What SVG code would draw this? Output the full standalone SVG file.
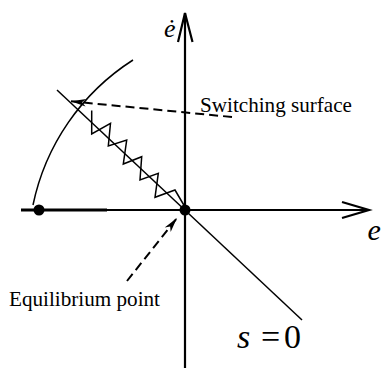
<svg xmlns="http://www.w3.org/2000/svg" width="381" height="368" viewBox="0 0 381 368">
  <style>
    .ax { stroke: #000; stroke-width: 2.2; fill: none; }
    .thin { stroke: #000; stroke-width: 1.5; fill: none; stroke-linejoin: miter; }
    .dash { stroke: #000; stroke-width: 2; fill: none; stroke-dasharray: 9 5; }
    text { font-family: 'Liberation Serif', 'DejaVu Serif', serif; fill: #000; }
    .it { font-style: italic; }
  </style>
  <defs>
    <marker id="barb" markerUnits="userSpaceOnUse" markerWidth="20" markerHeight="12" viewBox="-16 -6 18 12" refX="0" refY="0" orient="auto">
      <path d="M0,0 L-15,-3.8 L-11,0 L-15,3.8 Z" fill="#000"/>
    </marker>
  </defs>
  <rect width="381" height="368" fill="#fff"/>

  <g id="axes">
    <line class="ax" x1="185" y1="368" x2="185" y2="13"/>
    <polyline class="ax" points="178,42 185,13 192.5,42"/>
    <line class="ax" x1="21" y1="210" x2="369" y2="210"/>
    <line stroke="#000" stroke-width="2.8" x1="21" y1="210" x2="107" y2="210"/>
    <polyline class="ax" points="342,202 369,210 342,218"/>
  </g>

  <g id="surface">
    <line class="thin" x1="57" y1="90" x2="302" y2="320"/>
  </g>

  <g id="trajectory">
    <path class="thin" stroke-width="1.7" d="M33,205 A227,227 0 0 1 133,60"/>
    <polyline class="thin" points="91.7,110.5 91.7,134 110.5,123.3 108.3,146 126.7,140 123.3,164 141.7,156.7 140,180 158.3,173.3 155,197.3 175,190 185,207"/>
    <circle cx="39" cy="210" r="5.5"/>
    <circle cx="185" cy="210" r="5.5"/>
  </g>

  <g id="connectors">
    <line class="dash" x1="232" y1="117" x2="71" y2="101.3" marker-end="url(#barb)"/>
    <line class="dash" x1="127" y1="281" x2="177" y2="218" marker-end="url(#barb)"/>
  </g>

  <g id="labels">
    <text class="it" x="164" y="37" font-size="26">ė</text>
    <text class="it" x="367.5" y="240" font-size="30">e</text>
    <text x="200" y="112" font-size="21" textLength="152" lengthAdjust="spacingAndGlyphs">Switching surface</text>
    <text x="9" y="306" font-size="20.5" textLength="151" lengthAdjust="spacingAndGlyphs">Equilibrium point</text>
    <text font-size="34" y="348"><tspan class="it" x="237">s</tspan><tspan x="261">=</tspan><tspan x="284">0</tspan></text>
  </g>
</svg>
